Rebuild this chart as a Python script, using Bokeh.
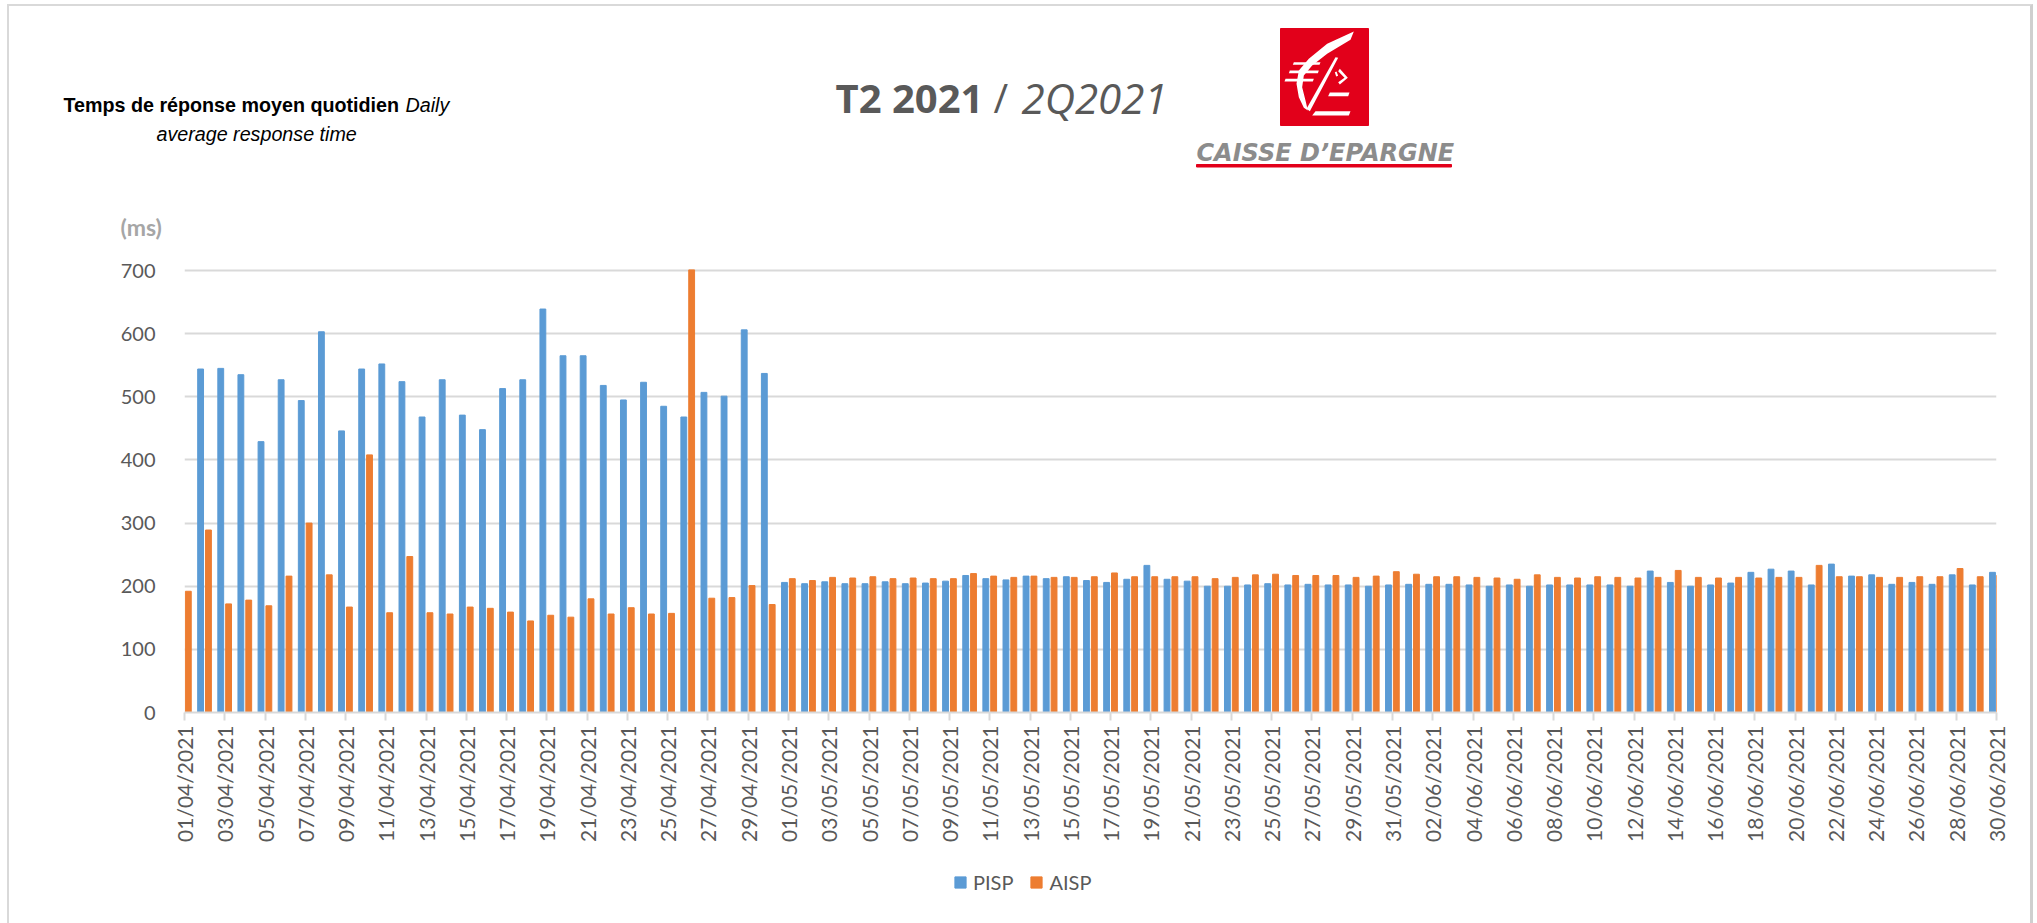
import math
import pandas as pd
from bokeh.core.properties import value
from bokeh.embed import file_html
from bokeh.layouts import column
from bokeh.resources import INLINE
from bokeh.plotting import figure
from bokeh.models import ColumnDataSource, FixedTicker, Legend, LegendItem, Range1d
from bokeh.transform import dodge

nan = float("nan")
dates = [d.strftime("%d/%m/%Y") for d in pd.date_range("2021-04-01", "2021-06-30")]
y_ticks = [0, 100, 200, 300, 400, 500, 600, 700]

pisp = [nan, 544, 545, 535, 429, 527, 494, 603, 446, 544, 552, 524, 468, 527, 471, 448, 513, 527, 639, 565,
        565, 518, 495, 523, 485, 468, 507, 501, 606, 537,
        206, 204, 207, 204, 204, 207, 204, 205, 208, 217, 212, 210, 216, 212, 215, 209, 206, 211, 233, 211,
        208, 200, 200, 202, 204, 202, 203, 202, 202, 200, 202,
        203, 203, 203, 202, 200, 202, 200, 202, 202, 202, 202, 200, 224, 206, 200, 202, 205, 222, 227,
        224, 202, 235, 216, 218, 203, 206, 203, 218, 202, 222]
aisp = [192, 289, 172, 178, 169, 216, 300, 218, 167, 408, 158, 247, 158, 156, 167, 165, 159, 145, 154, 151,
        180, 156, 166, 156, 157, 701, 181, 182, 201, 171,
        212, 209, 214, 213, 215, 212, 213, 212, 212, 220, 216, 214, 216, 214, 214, 215, 221, 215, 215, 215,
        215, 212, 214, 218, 219, 217, 217, 217, 214, 216, 223,
        219, 215, 215, 214, 213, 211, 218, 214, 213, 215, 214, 213, 214, 225, 214, 213, 214, 213, 214,
        214, 233, 215, 215, 214, 214, 215, 215, 228, 215, 217]

BLUE, ORANGE, GRID, TXT, RED = "#5b9bd5", "#ed7d31", "#d9d9d9", "#595959", "#e2001a"
X0, X1, Y0 = 9, 2030, 6      # where the inner area of the page frame starts and ends
HEAD_END, CHART_END = 250, 860
LEFT, RIGHT, TOP, BOTTOM = 184, 1996, 268, 712
Y_MAX = 703.2                # a little headroom, so the 700 gridline is not clipped by the frame


def blank(h, y_top, y_bottom):
    f = figure(width=X1 - X0, height=h, output_backend="svg", toolbar_location=None,
               x_range=Range1d(X0, X1), y_range=Range1d(y_bottom, y_top),
               x_axis_type=None, y_axis_type=None, min_border=0, frame_align=False,
               outline_line_color=None, background_fill_color="white")
    f.grid.visible = False
    return f


head = blank(HEAD_END - Y0, Y0, HEAD_END)


def text(x, y, s, size, color=TXT, style="normal", font="Liberation Sans"):
    head.text(x=[x], y=[y], text=[s], text_font=value(font), text_font_size=f"{size}px",
              text_font_style=style, text_color=color, text_align="left", text_baseline="middle")


text(63, 104, "Temps de réponse moyen quotidien", 19.7, "#000000", "bold")
text(405, 104, "Daily", 19.7, "#000000", "italic")
text(156, 133, "average response time", 19.7, "#000000", "italic")
text(120, 226, "(ms)", 23, "#a6a6a6", "bold", "Lato")
text(835, 97, "T2 2021", 40, TXT, "bold", "Open Sans")
text(993, 97, "/", 40, TXT, "normal", "Open Sans")
text(1021, 97, "2Q2021", 42, TXT, "italic", "Open Sans")
text(1196, 152, "CAISSE D’EPARGNE", 24, "#8c8c8c", "bold italic", "DejaVu Sans")

head.quad(left=1280, right=1368, top=28, bottom=125, color=RED)
head.quad(left=1196, right=1451, top=164, bottom=166.5, color=RED)
shapes = [
    [(250, 33), (240, 58), (170, 100), (125, 135), (100, 165), (95, 200), (105, 240), (112, 270),
     (100, 262), (85, 230), (78, 190), (85, 150), (115, 115), (170, 70)],
    [(70, 125), (150, 125), (147, 133), (67, 133)],
    [(58, 150), (145, 150), (142, 158), (55, 158)],
    [(45, 175), (130, 175), (127, 183), (42, 183)],
    [(108, 265), (195, 110), (203, 112), (118, 272)],
    [(208, 145), (232, 172), (208, 192), (203, 185), (222, 172), (203, 152)],
    [(193, 155), (198, 153), (203, 166), (197, 168)],
    [(178, 216), (237, 216), (233, 227), (173, 227)],
    [(135, 272), (240, 272), (235, 285), (125, 285)],
]
head.patches([[1270 + a / 3 for a, _ in s] for s in shapes],
             [[20 + b / 3 for _, b in s] for s in shapes], color="#ffffff", line_width=0)

p = figure(width=X1 - X0, height=CHART_END - HEAD_END, output_backend="svg", toolbar_location=None,
           x_range=Range1d(0, len(dates) - 1), y_range=Range1d(0, Y_MAX),
           min_border_left=LEFT - X0, min_border_right=X1 - RIGHT,
           min_border_top=TOP - HEAD_END, min_border_bottom=CHART_END - BOTTOM,
           frame_align=False, outline_line_color=None, background_fill_color="white")

src = ColumnDataSource(dict(i=list(range(len(dates))), pisp=pisp, aisp=aisp))
p.vbar(x=dodge("i", -0.2, range=p.x_range), top="pisp", width=0.29, bottom=0, source=src, color=BLUE)
p.vbar(x=dodge("i", 0.19, range=p.x_range), top="aisp", width=0.29, bottom=0, source=src, color=ORANGE)

p.xgrid.visible = False
p.ygrid.grid_line_color = GRID
p.ygrid.grid_line_width = 2
p.ygrid.level = "underlay"
p.ygrid.ticker = FixedTicker(ticks=y_ticks)

ax = p.xaxis[0]
ax.ticker = FixedTicker(ticks=list(range(0, len(dates), 2)))
ax.major_label_overrides = {i: d for i, d in enumerate(dates)}
ax.major_label_orientation = math.pi / 2
ax.major_label_text_font = "Lato"
ax.major_label_text_font_size = "21px"
ax.major_label_text_color = TXT
ax.major_label_standoff = 5
ax.axis_line_color = GRID
ax.axis_line_width = 2
ax.major_tick_line_color = GRID
ax.major_tick_line_width = 2
ax.major_tick_out = 8
ax.major_tick_in = 0
ax.minor_tick_line_color = None

ay = p.yaxis[0]
ay.ticker = FixedTicker(ticks=y_ticks)
ay.major_label_text_font = "Lato"
ay.major_label_text_font_size = "20px"
ay.major_label_text_color = TXT
ay.major_label_standoff = 23
ay.axis_line_color = None
ay.major_tick_line_color = None
ay.minor_tick_line_color = None

foot = blank(923 - CHART_END, CHART_END, 923)
k1 = foot.vbar(x=[nan], top=[nan], width=1, color=BLUE)
k2 = foot.vbar(x=[nan], top=[nan], width=1, color=ORANGE)
leg = Legend(items=[LegendItem(label="PISP", renderers=[k1]), LegendItem(label="AISP", renderers=[k2])],
             orientation="horizontal", location=(944, 29), border_line_color=None,
             background_fill_alpha=0, label_text_font="Lato", label_text_font_size="20px",
             label_text_color=TXT, glyph_width=14, glyph_height=14, spacing=16, label_standoff=6,
             padding=0, margin=0)
foot.add_layout(leg, "center")

edge = f"2px solid {GRID}"
page = column(head, p, foot, spacing=0, margin=(4, 0, 0, 7),
              styles={"border-left": edge, "border-top": edge, "border-right": "3px solid #cfcfcf"})

open("out.html", "w").write(file_html(page, INLINE))
